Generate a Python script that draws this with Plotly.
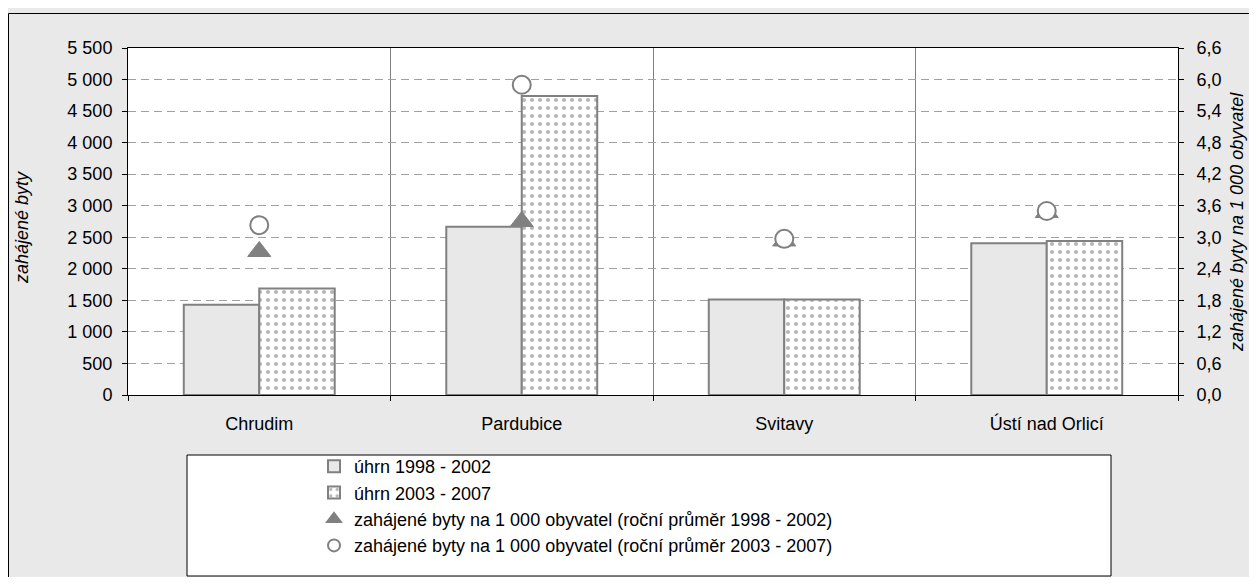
import plotly.graph_objects as go

categories = ["Chrudim", "Pardubice", "Svitavy", "Ústí nad Orlicí"]
uhrn_1998_2002 = [1430, 2665, 1515, 2405]
uhrn_2003_2007 = [1690, 4740, 1515, 2440]
na1000_1998_2002 = [2.73, 3.30, 2.93, 3.47]
na1000_2003_2007 = [3.23, 5.90, 2.97, 3.50]

series_names = [
    "úhrn 1998 - 2002",
    "úhrn 2003 - 2007",
    "zahájené byty na 1 000 obyvatel (roční průměr 1998 - 2002)",
    "zahájené byty na 1 000 obyvatel (roční průměr 2003 - 2007)",
]
left_title = "zahájené byty"
right_title = "zahájené byty na 1 000 obyvatel"

FONT = "Liberation Sans, Arial, sans-serif"
FS = 18
GRAY = "#808080"
BG = "#e9e9e9"

fig = go.Figure()
fig.add_trace(go.Bar(
    x=categories, y=uhrn_1998_2002, name=series_names[0],
    marker=dict(color="#e8e8e8", line=dict(color=GRAY, width=2)),
    legendgroup="a",
))
fig.add_trace(go.Bar(
    x=categories, y=uhrn_2003_2007, name=series_names[1],
    marker=dict(color="white", line=dict(color=GRAY, width=2),
                pattern=dict(shape=".", fgcolor="#6e6e6e", bgcolor="white",
                             size=8, solidity=0.22)),
    legendgroup="b",
))
fig.add_trace(go.Scatter(
    x=categories, y=na1000_1998_2002, name=series_names[2], yaxis="y2",
    mode="markers",
    marker=dict(symbol="triangle-up", size=20, color=GRAY,
                line=dict(color=GRAY, width=1)),
    legendgroup="c",
))
fig.add_trace(go.Scatter(
    x=categories, y=na1000_2003_2007, name=series_names[3], yaxis="y2",
    mode="markers",
    marker=dict(symbol="circle", size=18, color="white",
                line=dict(color=GRAY, width=2)),
    legendgroup="d",
))

# figure-pixel geometry (page has an 8px body margin)
L, R, T, B = 120, 1170, 40, 387
W, H = 1249, 569
pw, ph = R - L, B - T

def px_x(p):
    return (p - L) / pw

def px_y(p):
    return (B - p) / ph

tickfont = dict(family=FONT, size=FS, color="black")

fig.update_layout(
    width=W, height=H,
    margin=dict(l=L, r=W - R, t=T, b=H - B, pad=0),
    paper_bgcolor=BG, plot_bgcolor="white",
    font=dict(family=FONT, size=FS, color="black"),
    separators=", ",
    barmode="group", bargap=0.425, bargroupgap=0,
    showlegend=True,
    legend=dict(
        x=px_x(306), y=px_y(440), xanchor="left", yanchor="top",
        bgcolor="rgba(0,0,0,0)", borderwidth=0,
        font=dict(family=FONT, size=FS, color="black"),
        tracegroupgap=2, itemsizing="constant",
        traceorder="normal",
    ),
    xaxis=dict(
        type="category", tickson="boundaries",
        showgrid=True, gridcolor=GRAY, gridwidth=1,
        showline=True, linecolor="black", linewidth=1, mirror=True,
        ticks="outside", ticklen=5, tickcolor="black",
        ticklabelstandoff=12,
        tickfont=tickfont,
    ),
    yaxis=dict(
        range=[0, 5500], dtick=500, tick0=0,
        separatethousands=True,
        showgrid=True, gridcolor="#a0a0a0", gridwidth=1, griddash="8px,5px",
        zeroline=False,
        showline=True, linecolor="black", linewidth=1,
        ticks="outside", ticklen=5, tickcolor="black",
        ticklabelstandoff=6,
        tickfont=tickfont,
    ),
    yaxis2=dict(
        range=[0, 6.6], dtick=0.6, tick0=0, tickformat=".1f",
        overlaying="y", side="right",
        showgrid=False, zeroline=False,
        showline=True, linecolor="black", linewidth=1,
        ticks="outside", ticklen=5, tickcolor="black",
        ticklabelstandoff=9,
        tickfont=tickfont,
    ),
    shapes=[
        dict(type="rect", xref="paper", yref="paper",
             x0=px_x(0.5), x1=px_x(1270), y0=px_y(5.5), y1=px_y(600),
             line=dict(color="black", width=1), fillcolor="rgba(0,0,0,0)",
             layer="below"),
        dict(type="rect", xref="paper", yref="paper",
             x0=px_x(179), x1=px_x(1103), y0=px_y(447), y1=px_y(568),
             line=dict(color="black", width=1), fillcolor="white",
             layer="below"),
    ],
    annotations=[
        dict(text=left_title, xref="paper", yref="paper",
             x=px_x(14), y=px_y(220), showarrow=False, textangle=-90,
             xanchor="center", yanchor="middle",
             font=dict(family=FONT, size=FS, color="black", style="italic")),
        dict(text=right_title, xref="paper", yref="paper",
             x=px_x(1229), y=px_y(214), showarrow=False, textangle=-90,
             xanchor="center", yanchor="middle",
             font=dict(family=FONT, size=FS, color="black", style="italic")),
    ],
)

fig.write_html("out.html")
